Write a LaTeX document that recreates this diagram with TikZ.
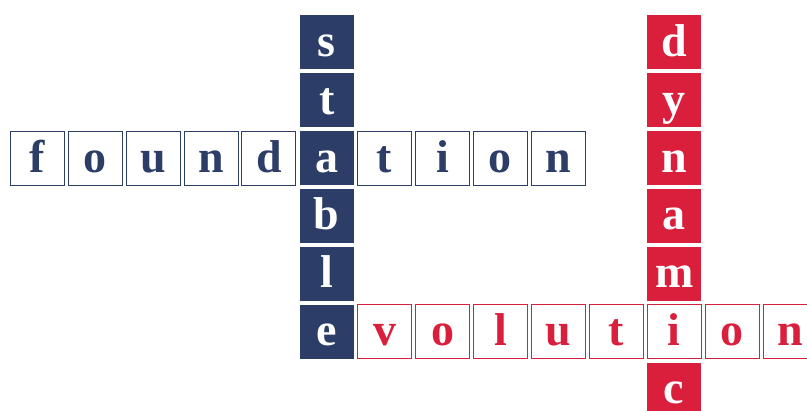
\documentclass[tikz,border=0pt]{standalone}
\usepackage{fontspec}
\setmainfont{Liberation Serif}
\usepackage{tikz}
\usepackage{xcolor}
\definecolor{cNavy}{RGB}{44,62,104}
\definecolor{cRed}{RGB}{218,31,61}
\tikzset{
	tile/.style    ={rectangle, minimum size=54pt, inner sep=0pt, text height=36pt, text depth=8pt,
	                 font=\bfseries\fontsize{46}{46}\selectfont},
	tileline/.style={tile, draw=#1, line width=0.9pt, fill=white, text=#1},
	tilefill/.style={tile, fill=#1, text=white},
}
\begin{document}
\begin{tikzpicture}[x=57.9pt, y=-57.9pt]
	\useasboundingbox (-0.6433,-0.7297) rectangle (13.2945,6.3515);
	% dynamic (column), i is shared with the evolution row
	\foreach \l [count=\i from 0] in {d,y,n,a,m,i,c}
		{\ifnum\i=5\else \node[tilefill=cRed] (dyn-\i) at (11,\i) {\l}; \fi}
	% evolution (row)
	\foreach \l [count=\i from 5] in {e,v,o,l,u,t,i,o,n}
		{\ifnum\i=5\else \node[tileline=cRed] (evol-\i) at (\i,5) {\l}; \fi}
	% foundation (row)
	\foreach \l [count=\i from 0] in {f,o,u,n,d,a,t,i,o,n}
		{\ifnum\i=5\else \node[tileline=cNavy] (found-\i) at (\i,2) {\l}; \fi}
	% stable (column)
	\foreach \l [count=\i from 0] in {s,t,a,b,l,e}
		\node[tilefill=cNavy] (stab-\i) at (5,\i) {\l};
\end{tikzpicture}
\end{document}
